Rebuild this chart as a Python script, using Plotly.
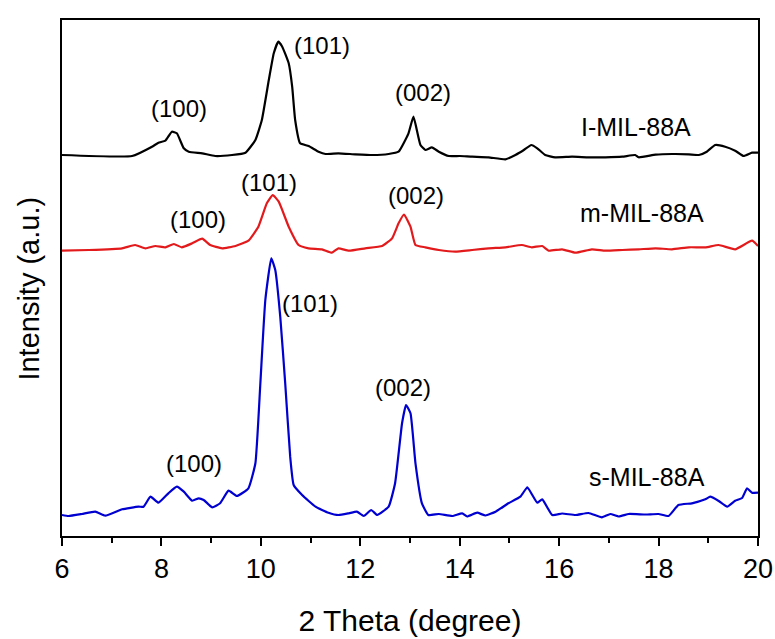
import plotly.graph_objects as go

# ---- data (2 Theta in degree, intensity in a.u. incl. stacking offset) ----
l_theta = [6.0, 7.41, 7.81, 7.94, 8.08, 8.21, 8.31, 8.45, 8.55, 8.82, 9.08, 9.42, 9.69, 9.89, 10.02,
           10.16, 10.26, 10.35, 10.43, 10.56, 10.63, 10.69, 10.79, 10.96, 11.16, 11.30, 11.56, 11.90,
           12.24, 12.57, 12.77, 12.97, 13.07, 13.21, 13.31, 13.44, 13.58, 13.78, 14.0, 14.25, 14.58,
           14.92, 15.12, 15.29, 15.44, 15.56, 15.72, 15.92, 16.26, 16.59, 16.93, 17.27, 17.53, 17.6,
           17.94, 18.27, 18.61, 18.81, 18.97, 19.14, 19.34, 19.54, 19.71, 19.88, 20.0]
l_int = [381, 380, 389.3, 393.3, 395.3, 404.3, 402.7, 387.7, 384.3, 382.7, 380, 381, 383.3, 396, 416,
         456, 482.7, 494.3, 489.3, 472.7, 449.3, 416, 392.7, 390, 384.3, 382, 382.7, 381.7,
         381, 382, 384.3, 402.7, 419.3, 391, 386, 388.7, 384.3, 380, 380, 379.3, 378.7,
         376.7, 381, 386, 391, 387.7, 381, 378.7, 379.3, 378.7, 378.7, 379.3, 381, 378.7,
         381.3, 382, 381.7, 381, 384.3, 391, 389.3, 385.3, 380, 383.3, 383.3]

m_theta = [6.0, 6.54, 7.21, 7.47, 7.68, 7.88, 8.08, 8.25, 8.41, 8.62, 8.82, 8.98, 9.22, 9.49, 9.75,
           9.95, 10.12, 10.24, 10.36, 10.56, 10.76, 10.96, 11.23, 11.43, 11.56, 11.77, 12.10, 12.44,
           12.64, 12.77, 12.88, 13.01, 13.11, 13.31, 13.58, 13.91, 14.25, 14.58, 14.92, 15.25, 15.45,
           15.66, 15.79, 16.06, 16.33, 16.66, 16.93, 17.27, 17.60, 17.94, 18.27, 18.61, 18.95, 19.21,
           19.54, 19.88, 20.0]
m_int = [285.3, 286, 287.7, 291, 287.7, 290, 288.7, 292, 288.7, 292.7, 297.3, 291, 287.7, 290, 295.3,
         309.3, 332.7, 341, 334.3, 309.3, 291, 287.7, 286.7, 283.3, 287.7, 285.3, 287.7, 290,
         297.7, 312.7, 321.5, 309.3, 291, 288.7, 286, 284.3, 286, 287.7, 288.7, 291, 288.7,
         290, 285.3, 286.7, 283.3, 286.7, 285.3, 286, 286.7, 287.7, 286.7, 288.7, 288.7, 291,
         286.7, 295.3, 290]

s_theta = [6.0, 6.13, 6.40, 6.67, 6.87, 7.21, 7.54, 7.64, 7.78, 7.94, 8.14, 8.31, 8.45, 8.62, 8.75,
           8.85, 9.02, 9.18, 9.35, 9.52, 9.75, 9.89, 9.99, 10.09, 10.21, 10.29, 10.39, 10.49, 10.59,
           10.66, 10.83, 11.10, 11.36, 11.56, 11.77, 11.93, 12.07, 12.22, 12.34, 12.57, 12.70, 12.84,
           12.92, 13.01, 13.11, 13.24, 13.37, 13.58, 13.85, 14.05, 14.15, 14.35, 14.52, 14.72, 14.98,
           15.22, 15.36, 15.46, 15.56, 15.66, 15.86, 16.06, 16.33, 16.59, 16.86, 17.03, 17.20, 17.40,
           17.74, 18.00, 18.20, 18.40, 18.67, 18.94, 19.04, 19.21, 19.38, 19.54, 19.68, 19.78, 19.88,
           20.0]
s_int = [21, 20, 22, 24.3, 20.3, 26.7, 29.3, 29.3, 39.3, 33.3, 42.7, 49.3, 44.3, 35.3, 37.7,
         36, 28.7, 32.7, 45.3, 40, 47.7, 72.7, 152.7, 236, 277.7, 266, 219.3, 152.7, 79.3,
         51, 41, 29.3, 23.3, 21, 22.7, 24.3, 20, 26, 21, 29.3, 52.7, 112.7,
         131, 122.7, 72.7, 32.7, 21, 22, 20, 22.7, 19.5, 23.3, 20.5, 24.3, 32.7,
         39.3, 48.7, 41, 33.3, 36.7, 21, 22.5, 21, 23, 18.7, 22, 19.5, 22,
         21.5, 22, 20, 31, 32.7, 36.7, 39.3, 35, 29.3, 35.3, 38, 47.7, 43.3,
         43.3]

sample_names = ["I-MIL-88A", "m-MIL-88A", "s-MIL-88A"]
sample_colors = ["#000000", "#e31a1c", "#0000d0"]
peak_labels = ["(100)", "(101)", "(002)"]

x_ticks = [6, 8, 10, 12, 14, 16, 18, 20]

FONT = "Liberation Sans, Arial, sans-serif"

fig = go.Figure()
for th, it, name, col in zip([l_theta, m_theta, s_theta], [l_int, m_int, s_int],
                             sample_names, sample_colors):
    fig.add_trace(go.Scatter(x=th, y=it, mode="lines", name=name,
                             line=dict(color=col, width=2.2, shape="spline", smoothing=0.4),
                             showlegend=False))

# sample labels
sample_label_pos = [(17.55, 409), (17.67, 323), (17.77, 59)]
for name, (x, y) in zip(sample_names, sample_label_pos):
    fig.add_annotation(x=x, y=y, text=name, showarrow=False,
                       font=dict(family=FONT, size=25, color="black"))

# peak labels
peak_pos = [
    [(8.35, 428), (11.23, 491), (13.27, 444)],
    [(8.74, 317), (10.16, 354), (13.13, 341)],
    [(8.65, 73), (10.98, 233), (12.86, 149)],
]
for row in peak_pos:
    for lab, (x, y) in zip(peak_labels, row):
        fig.add_annotation(x=x, y=y, text=lab, showarrow=False,
                           font=dict(family=FONT, size=24, color="black"))

# y-axis title
fig.add_annotation(xref="paper", yref="paper", x=-0.047, y=0.48, text="Intensity (a.u.)",
                   textangle=-90, showarrow=False, xanchor="center", yanchor="middle",
                   font=dict(family=FONT, size=29, color="black"))

fig.update_layout(
    width=775, height=639,
    margin=dict(l=62, r=17, t=20, b=103),
    paper_bgcolor="white", plot_bgcolor="white",
    font=dict(family=FONT, color="black"),
    xaxis=dict(range=[6, 20], tickvals=x_ticks, ticktext=[str(v) for v in x_ticks],
               ticks="outside", ticklen=8, tickwidth=2, tickcolor="black",
               minor=dict(dtick=1, ticks="outside", ticklen=5, tickwidth=2, tickcolor="black"),
               showline=True, linecolor="black", linewidth=2, mirror=True,
               showgrid=False, zeroline=False, automargin=False,
               tickfont=dict(family=FONT, size=27, color="black"),
               title=dict(text="2 Theta (degree)", font=dict(family=FONT, size=30, color="black"),
                          standoff=27)),
    yaxis=dict(range=[0, 516], showticklabels=False, ticks="", automargin=False,
               showline=True, linecolor="black", linewidth=2, mirror=True,
               showgrid=False, zeroline=False),
)

fig.write_html("out.html")
